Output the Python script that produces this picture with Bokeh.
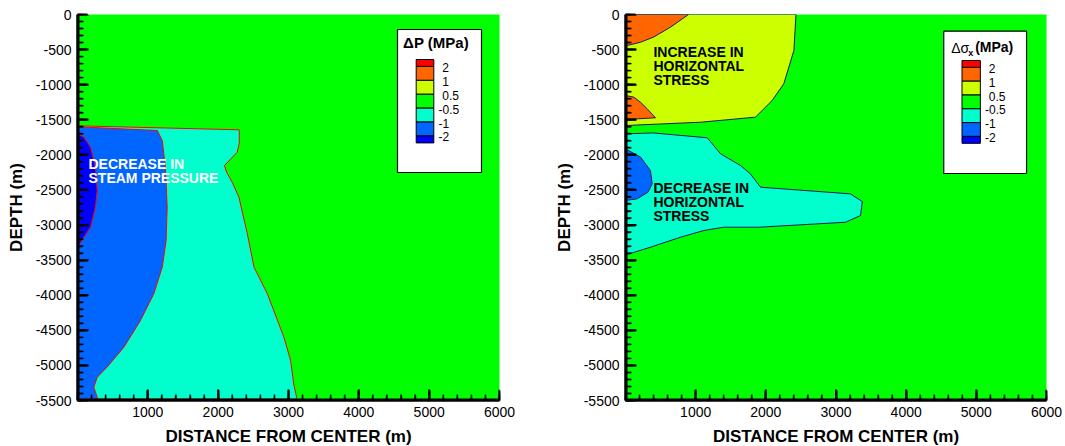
from bokeh.plotting import figure
from bokeh.layouts import row
from bokeh.models import Range1d, FixedTicker
from bokeh.core.properties import value
from bokeh.embed import file_html
from bokeh.resources import INLINE

# ---------------- data ----------------
X_MAX = 6000
Y_MIN = -5500
x_major = list(range(1000, 6001, 1000))
x_minor = list(range(0, 6001, 200))
y_major = list(range(-5500, 1, 500))
y_minor = list(range(-5500, 1, 100))

legend_labels = ["2", "1", "0.5", "-0.5", "-1", "-2"]
legend_colors = ["#ff0000", "#ff6600", "#ccff00", "#00ff00", "#00ffcc", "#0066ff", "#0000ff"]
background_color = "#00ff00"

# Left panel: steam pressure change (boundary curves, x = distance, y = depth)
dp_cyan_x = [0, 2300, 2300, 2270, 2090, 2120, 2200, 2295, 2415, 2510, 2700, 2935, 3030, 3075, 3115, 3115, 0]
dp_cyan_y = [-1586, -1643, -1843, -1962, -2152, -2247, -2390, -2603, -3125, -3600, -3980, -4600, -4930, -5265, -5455, -5480, -5480]
dp_blue_x = [0, 1135, 1205, 1250, 1275, 1260, 1205, 1085, 895, 660, 420, 280, 232, 280, 285, 0]
dp_blue_y = [-1600, -1653, -1796, -2176, -2746, -3220, -3600, -3980, -4360, -4740, -5025, -5170, -5310, -5455, -5480, -5480]
dp_dblue_x = [0, 90, 185, 255, 280, 255, 185, 90, 18, 0]
dp_dblue_y = [-1700, -1748, -1890, -2176, -2508, -2746, -3030, -3173, -3292, -3292]

# Right panel: horizontal stress change
ds_yellow_x = [0, 2430, 2400, 2256, 2090, 1852, 1070, 0]
ds_yellow_y = [0, 0, -513, -988, -1226, -1463, -1535, -1582]
ds_orange1_x = [0, 898, 641, 399, 214, 24, 0]
ds_orange1_y = [0, 0, -181, -323, -395, -442, -442]
ds_orange2_x = [0, 119, 214, 309, 428, 0]
ds_orange2_y = [-1154, -1178, -1250, -1344, -1472, -1496]
ds_cyan_x = [0, 400, 1165, 1355, 1640, 1780, 1925, 3205, 3375, 3350, 3135, 1900, 1400, 1115, 785, 355, 50, 0]
ds_cyan_y = [-1700, -1688, -1757, -1985, -2152, -2271, -2461, -2556, -2665, -2864, -2960, -3031, -3031, -3078, -3173, -3316, -3411, -3420]
ds_blue_x = [0, 215, 355, 380, 320, 165, 0]
ds_blue_y = [-1914, -2033, -2223, -2413, -2532, -2627, -2650]

FONT = "Liberation Sans"
FRAME_H = 386


def make_fig(border_left, border_right, frame_w):
    p = figure(frame_width=frame_w, frame_height=FRAME_H,
               x_range=Range1d(0, X_MAX), y_range=Range1d(Y_MIN, 0),
               output_backend="svg", toolbar_location=None,
               min_border_left=border_left, min_border_right=border_right,
               min_border_top=14, min_border_bottom=44)
    p.background_fill_color = background_color
    p.outline_line_color = None
    p.xgrid.grid_line_color = None
    p.ygrid.grid_line_color = None
    p.xaxis.ticker = FixedTicker(ticks=x_major, minor_ticks=x_minor)
    p.yaxis.ticker = FixedTicker(ticks=y_major, minor_ticks=y_minor)
    p.yaxis.major_label_overrides = {v: str(v) for v in y_major}
    p.xaxis.major_label_overrides = {v: str(v) for v in x_major}
    p.xaxis.axis_label = "DISTANCE FROM CENTER (m)"
    p.yaxis.axis_label = "DEPTH (m)"
    for ax in (p.xaxis[0], p.yaxis[0]):
        ax.axis_line_width = 2.5
        ax.axis_line_color = "black"
        ax.major_tick_line_color = "black"
        ax.minor_tick_line_color = "black"
        ax.major_tick_line_width = 2
        ax.minor_tick_line_width = 1.4
        ax.major_tick_in = 10
        ax.major_tick_out = 0
        ax.minor_tick_in = 5
        ax.minor_tick_out = 0
        ax.major_label_text_font = FONT
        ax.major_label_text_font_size = "14px"
        ax.major_label_text_color = "black"
        ax.major_label_standoff = 6
        ax.axis_label_text_font = FONT
        ax.axis_label_text_font_size = "17px"
        ax.axis_label_text_font_style = "bold"
        ax.axis_label_text_color = "black"
        ax.axis_label_standoff = 7
    return p


def draw_axes(p, frame_w):
    # axis lines with inward ticks, each axis drawn as one comb-shaped polygon
    xu = X_MAX / frame_w      # data units per pixel, x
    yu = -Y_MIN / FRAME_H     # data units per pixel, y
    base = 2.0
    xt = {t: (0.7, 6.0) for t in x_minor}
    xt.update({t: (1.0, 11.0) for t in x_major})
    cx = [-2 * xu, -2 * xu]
    cy = [Y_MIN - 2 * yu, Y_MIN + base * yu]
    for t in sorted(xt):
        w, h = xt[t]
        cx += [t - w * xu, t - w * xu, t + w * xu, t + w * xu]
        cy += [Y_MIN + base * yu, Y_MIN + h * yu, Y_MIN + h * yu, Y_MIN + base * yu]
    cx += [X_MAX + 2 * xu, X_MAX + 2 * xu]
    cy += [Y_MIN + base * yu, Y_MIN - 2 * yu]
    p.patch(cx, cy, fill_color="black", line_color=None)

    yt = {t: (0.7, 6.0) for t in y_minor}
    yt.update({t: (1.0, 11.0) for t in y_major})
    cx = [-2 * xu, base * xu]
    cy = [Y_MIN - 2 * yu, Y_MIN - 2 * yu]
    for t in sorted(yt):
        w, h = yt[t]
        cx += [base * xu, h * xu, h * xu, base * xu]
        cy += [t - w * yu, t - w * yu, t + w * yu, t + w * yu]
    cx += [base * xu, -2 * xu]
    cy += [2 * yu, 2 * yu]
    p.patch(cx, cy, fill_color="black", line_color=None)


# reference-frame geometry helpers (pixel -> data) for annotation placement
def px2x(px, left):
    return (px - left) / 422.0 * X_MAX


def py2y(py):
    return -(py - 14.0) / 386.0 * (-Y_MIN)


def add_block(p, lines, px, py, left, color):
    # one text item per line, 14 px apart
    p.text(x=[px2x(px, left)] * len(lines), y=[py2y(py + 14 * i) for i in range(len(lines))],
           text=lines, text_font=value(FONT), text_font_size="14px", text_font_style="bold",
           text_color=color, text_baseline="top", text_align="left")


def add_legend(p, frame_left, box_l, box_r, box_t, box_b, bar_l, bar_r, bar_t, unit):
    p.quad(left=[px2x(box_l, frame_left)], right=[px2x(box_r, frame_left)],
           top=[py2y(box_t)], bottom=[py2y(box_b)],
           fill_color="white", line_color="black", line_width=1.2)
    steps = [0, 0.5, 1.5, 2.5, 3.5, 4.5, 5.5, 6]
    bounds = [bar_t + s * unit for s in steps]
    p.quad(left=[px2x(bar_l, frame_left)] * 7, right=[px2x(bar_r, frame_left)] * 7,
           top=[py2y(b) for b in bounds[:-1]], bottom=[py2y(b) for b in bounds[1:]],
           fill_color=legend_colors, line_color="black", line_width=1)
    return bounds


def add_legend_labels(p, frame_left, bar_r, bounds):
    xs = [px2x(bar_r + 8.5 - (3.8 if lab.startswith("-") else 0), frame_left) for lab in legend_labels]
    ys = [py2y(b + 1) for b in bounds[1:-1]]
    p.text(x=xs, y=ys, text=legend_labels, text_font=value(FONT), text_font_size="12px",
           text_color="black", text_baseline="middle", text_align="left")


# ---------------- left panel ----------------
p1 = make_fig(77, 51, 422)
p1.patch(dp_cyan_x, dp_cyan_y, fill_color=legend_colors[4], line_color="#ff0000", line_width=1)
p1.patch(dp_blue_x, dp_blue_y, fill_color=legend_colors[5], line_color="#ff0000", line_width=1)
p1.patch(dp_dblue_x, dp_dblue_y, fill_color=legend_colors[6], line_color="#ff0000", line_width=1)
draw_axes(p1, 422)
b1 = add_legend(p1, 77, 397, 481, 29, 172, 415.7, 433.3, 59, 13.9)
add_block(p1, ["DECREASE IN", "STEAM PRESSURE"], 88, 155, 77, "white")
add_legend_labels(p1, 77, 433.3, b1)
p1.text(x=[px2x(435.5, 77)], y=[py2y(42)], text=["\u0394P (MPa)"], text_font=value(FONT),
        text_font_size="15px", text_font_style="bold", text_color="black",
        text_baseline="middle", text_align="center")

# ---------------- right panel ----------------
p2 = make_fig(75, 17, 421)
navy = "#1a1a66"
p2.patch(ds_yellow_x, ds_yellow_y, fill_color=legend_colors[2], line_color=navy, line_width=1)
p2.patch(ds_orange1_x, ds_orange1_y, fill_color=legend_colors[1], line_color=navy, line_width=1)
p2.patch(ds_orange2_x, ds_orange2_y, fill_color=legend_colors[1], line_color=navy, line_width=1)
p2.patch(ds_cyan_x, ds_cyan_y, fill_color=legend_colors[4], line_color=navy, line_width=1)
p2.patch(ds_blue_x, ds_blue_y, fill_color=legend_colors[5], line_color=navy, line_width=1)
draw_axes(p2, 421)
b2 = add_legend(p2, 625, 944, 1027, 30.7, 173, 962.3, 980.7, 60, 13.8)
add_block(p2, ["INCREASE IN", "HORIZONTAL", "STRESS"], 653, 43, 625, "black")
add_block(p2, ["DECREASE IN", "HORIZONTAL", "STRESS"], 653, 179, 625, "black")
add_legend_labels(p2, 625, 980.7, b2)
p2.text(x=[px2x(951.5, 625)], y=[py2y(47)], text=["\u0394\u03c3"], text_font=value(FONT),
        text_font_size="14px", text_color="black", text_baseline="middle", text_align="left")
p2.text(x=[px2x(968.5, 625)], y=[py2y(52)], text=["x"], text_font=value(FONT),
        text_font_size="9px", text_font_style="bold", text_color="black",
        text_baseline="middle", text_align="left")
p2.text(x=[px2x(975.5, 625)], y=[py2y(46.5)], text=["(MPa)"], text_font=value(FONT),
        text_font_size="14px", text_font_style="bold", text_color="black",
        text_baseline="middle", text_align="left")

layout = row(p1, p2)
open("out.html", "w").write(file_html(layout, INLINE))
